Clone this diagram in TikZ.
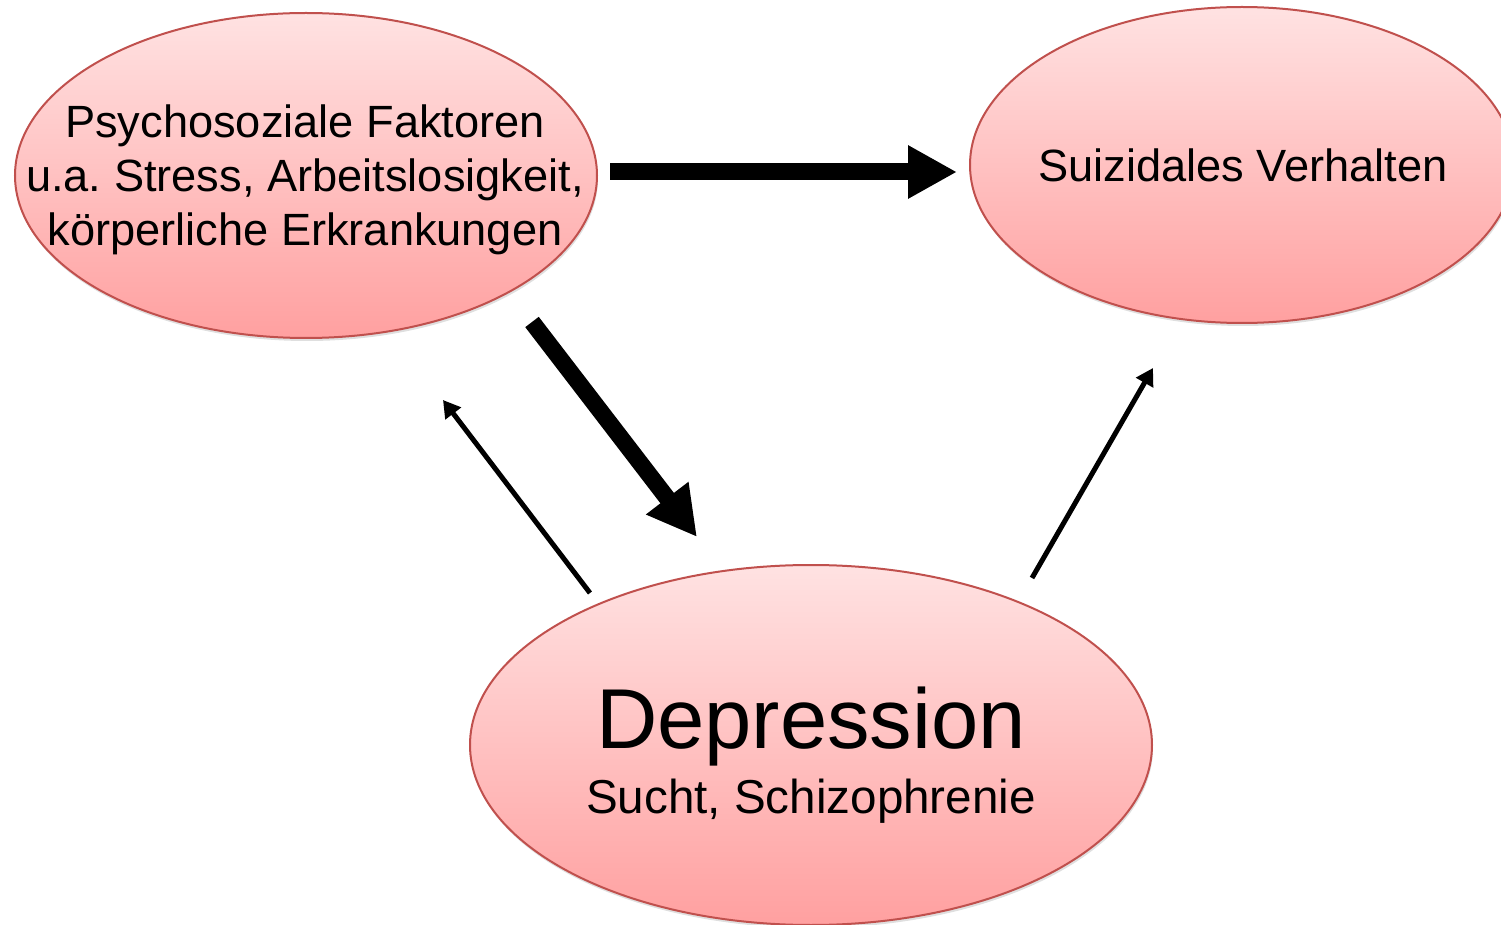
\documentclass[tikz,border=0pt]{standalone}
\usepackage{fontspec}
\setmainfont{Liberation Sans}
\usetikzlibrary{arrows.meta,shapes.geometric,shadows,calc}
\definecolor{blobtop}{RGB}{255,226,226}
\definecolor{blobbot}{RGB}{255,160,160}
\definecolor{blobline}{RGB}{192,80,77}
\frenchspacing

\begin{document}
\begin{tikzpicture}[x=0.5pt,y=-0.5pt]
  \tikzstyle{blob}=[ellipse,draw=blobline,line width=1pt,top color=blobtop,bottom color=blobbot,inner sep=0pt,
    drop shadow={opacity=0.25,shadow xshift=0.5pt,shadow yshift=-1.5pt}]
  \tikzstyle{txt}=[align=center,inner sep=0pt,font=\fontsize{22.6}{27}\selectfont]
  \tikzstyle{fat}=[line width=8.5pt,-{Triangle[length=24.5pt,width=25pt]}]
  \tikzstyle{slim}=[line width=2.5pt,-{Triangle[length=8.5pt,width=9.5pt]}]

  \useasboundingbox (0,0) rectangle (1501,925);
  \clip (0,0) rectangle (1501,925);

  \node[blob,minimum width=291pt,minimum height=162.5pt] (A) at (306,175.5) {};
  \node[blob,minimum width=272pt,minimum height=158pt]   (B) at (1242,165) {};
  \node[blob,minimum width=341pt,minimum height=180pt]   (C) at (811,745) {};

  \node[txt] (At) at (305,180) {Psychosoziale Faktoren\\u.a. Stress, Arbeitslosigkeit,\\körperliche Erkrankungen};
  \node[txt,anchor=base] (Bt) at (1243,182) {Suizidales Verhalten};
  \node[txt,anchor=base,font=\fontsize{42.5}{48}\selectfont] (Cd) at (811,748) {Depression};
  \node[txt,anchor=base,font=\fontsize{23.8}{28}\selectfont] (Cs) at (811,813) {Sucht, Schizophrenie};

  % arrows between the three fields
  \draw[fat]  ($(A)+(304,-3.5)$) -- ($(B)+(-285,7)$);
  \draw[fat]  ($(A)+(226,146.5)$) -- ($(C)+(-114,-208)$);
  \draw[slim] ($(C)+(-221,-152)$) -- ($(A)+(137,224.5)$);
  \draw[slim] ($(C)+(221,-167)$) -- ($(B)+(-89,203)$);
\end{tikzpicture}
\end{document}
